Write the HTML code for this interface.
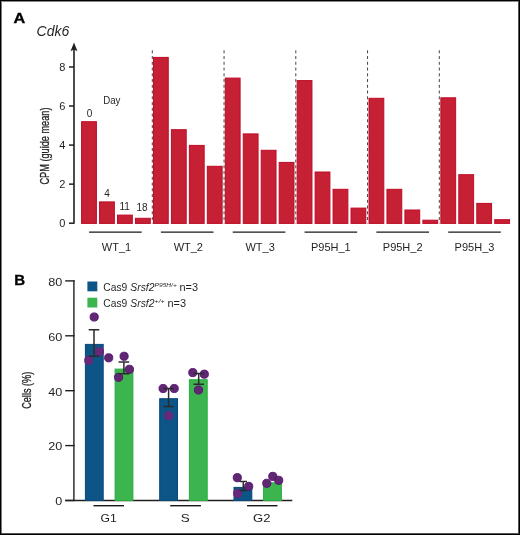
<!DOCTYPE html>
<html><head><meta charset="utf-8"><style>
html,body{margin:0;padding:0;background:#fff;}
body{width:520px;height:535px;overflow:hidden;position:relative;}
svg{position:absolute;left:0;top:0;will-change:transform;}
text{font-family:"Liberation Sans",sans-serif;fill:#231f20;}
.t10{font-size:10px;}
.t93{font-size:9.3px;}
.t11{font-size:11px;}
.t12{font-size:12px;}
.heavy{stroke:#231f20;stroke-width:0.3px;}
.bold16{font-size:16px;font-weight:bold;}
.bold15{font-size:15px;font-weight:bold;}
.bold155{font-size:15.5px;font-weight:bold;}
.it14{font-size:14px;font-style:italic;}
.bstroke{stroke:#000;stroke-width:0.35px;fill:#000;}
.it{font-style:italic;}
.sup{font-size:6.2px;font-style:italic;}
</style></head><body>
<svg width="520" height="535" viewBox="0 0 520 535">
<rect x="81.60" y="121.70" width="14.8" height="101.70" fill="#c52034" stroke="#c00b27" stroke-width="1"/>
<rect x="99.56" y="201.90" width="14.8" height="21.50" fill="#c52034" stroke="#c00b27" stroke-width="1"/>
<rect x="117.52" y="215.10" width="14.8" height="8.30" fill="#c52034" stroke="#c00b27" stroke-width="1"/>
<rect x="135.48" y="218.30" width="14.8" height="5.10" fill="#c52034" stroke="#c00b27" stroke-width="1"/>
<rect x="153.45" y="57.40" width="14.8" height="166.00" fill="#c52034" stroke="#c00b27" stroke-width="1"/>
<rect x="171.41" y="129.70" width="14.8" height="93.70" fill="#c52034" stroke="#c00b27" stroke-width="1"/>
<rect x="189.37" y="145.40" width="14.8" height="78.00" fill="#c52034" stroke="#c00b27" stroke-width="1"/>
<rect x="207.33" y="166.30" width="14.8" height="57.10" fill="#c52034" stroke="#c00b27" stroke-width="1"/>
<rect x="225.30" y="78.10" width="14.8" height="145.30" fill="#c52034" stroke="#c00b27" stroke-width="1"/>
<rect x="243.26" y="133.90" width="14.8" height="89.50" fill="#c52034" stroke="#c00b27" stroke-width="1"/>
<rect x="261.22" y="150.30" width="14.8" height="73.10" fill="#c52034" stroke="#c00b27" stroke-width="1"/>
<rect x="279.18" y="162.40" width="14.8" height="61.00" fill="#c52034" stroke="#c00b27" stroke-width="1"/>
<rect x="297.15" y="80.60" width="14.8" height="142.80" fill="#c52034" stroke="#c00b27" stroke-width="1"/>
<rect x="315.11" y="172.00" width="14.8" height="51.40" fill="#c52034" stroke="#c00b27" stroke-width="1"/>
<rect x="333.07" y="189.30" width="14.8" height="34.10" fill="#c52034" stroke="#c00b27" stroke-width="1"/>
<rect x="351.03" y="208.10" width="14.8" height="15.30" fill="#c52034" stroke="#c00b27" stroke-width="1"/>
<rect x="369.00" y="98.30" width="14.8" height="125.10" fill="#c52034" stroke="#c00b27" stroke-width="1"/>
<rect x="386.96" y="189.30" width="14.8" height="34.10" fill="#c52034" stroke="#c00b27" stroke-width="1"/>
<rect x="404.92" y="210.00" width="14.8" height="13.40" fill="#c52034" stroke="#c00b27" stroke-width="1"/>
<rect x="422.88" y="220.20" width="14.8" height="3.20" fill="#c52034" stroke="#c00b27" stroke-width="1"/>
<rect x="440.85" y="97.80" width="14.8" height="125.60" fill="#c52034" stroke="#c00b27" stroke-width="1"/>
<rect x="458.81" y="174.70" width="14.8" height="48.70" fill="#c52034" stroke="#c00b27" stroke-width="1"/>
<rect x="476.77" y="203.40" width="14.8" height="20.00" fill="#c52034" stroke="#c00b27" stroke-width="1"/>
<rect x="494.73" y="219.70" width="14.8" height="3.70" fill="#c52034" stroke="#c00b27" stroke-width="1"/>
<line x1="152.30" y1="50.3" x2="152.30" y2="223.4" stroke="#444" stroke-width="1" stroke-dasharray="3 2.75"/>
<line x1="224.05" y1="50.3" x2="224.05" y2="223.4" stroke="#444" stroke-width="1" stroke-dasharray="3 2.75"/>
<line x1="295.80" y1="50.3" x2="295.80" y2="223.4" stroke="#444" stroke-width="1" stroke-dasharray="3 2.75"/>
<line x1="367.55" y1="50.3" x2="367.55" y2="223.4" stroke="#444" stroke-width="1" stroke-dasharray="3 2.75"/>
<line x1="439.30" y1="50.3" x2="439.30" y2="223.4" stroke="#444" stroke-width="1" stroke-dasharray="3 2.75"/>
<line x1="74" y1="49" x2="74" y2="223.70000000000002" stroke="#231f20" stroke-width="1.6"/>
<path d="M74 42.4 L77.5 51.2 L74 49.6 L70.5 51.2 Z" fill="#231f20"/>
<line x1="69" y1="223.20" x2="74" y2="223.20" stroke="#231f20" stroke-width="1.5"/>
<text x="65.3" y="227.40" class="t11" text-anchor="end">0</text>
<line x1="69" y1="184.14" x2="74" y2="184.14" stroke="#231f20" stroke-width="1.5"/>
<text x="65.3" y="188.34" class="t11" text-anchor="end">2</text>
<line x1="69" y1="145.08" x2="74" y2="145.08" stroke="#231f20" stroke-width="1.5"/>
<text x="65.3" y="149.28" class="t11" text-anchor="end">4</text>
<line x1="69" y1="106.02" x2="74" y2="106.02" stroke="#231f20" stroke-width="1.5"/>
<text x="65.3" y="110.22" class="t11" text-anchor="end">6</text>
<line x1="69" y1="66.96" x2="74" y2="66.96" stroke="#231f20" stroke-width="1.5"/>
<text x="65.3" y="71.16" class="t11" text-anchor="end">8</text>
<text x="89.5" y="116.5" class="t10" text-anchor="middle">0</text>
<text x="107.0" y="197.1" class="t10" text-anchor="middle">4</text>
<text x="124.6" y="209.6" class="t10" text-anchor="middle">11</text>
<text x="142.1" y="211.3" class="t10" text-anchor="middle">18</text>
<text x="103.2" y="103.5" class="t10" textLength="17.3" lengthAdjust="spacingAndGlyphs">Day</text>
<line x1="89.10" y1="232.1" x2="141.70" y2="232.1" stroke="#1a1718" stroke-width="1.4"/>
<text x="116.50" y="250.7" class="t11" text-anchor="middle">WT_1</text>
<line x1="160.92" y1="232.1" x2="213.52" y2="232.1" stroke="#1a1718" stroke-width="1.4"/>
<text x="188.32" y="250.7" class="t11" text-anchor="middle">WT_2</text>
<line x1="232.74" y1="232.1" x2="285.34" y2="232.1" stroke="#1a1718" stroke-width="1.4"/>
<text x="260.14" y="250.7" class="t11" text-anchor="middle">WT_3</text>
<line x1="304.56" y1="232.1" x2="357.16" y2="232.1" stroke="#1a1718" stroke-width="1.4"/>
<text x="330.86" y="250.7" class="t11" text-anchor="middle">P95H_1</text>
<line x1="376.38" y1="232.1" x2="428.98" y2="232.1" stroke="#1a1718" stroke-width="1.4"/>
<text x="402.68" y="250.7" class="t11" text-anchor="middle">P95H_2</text>
<line x1="448.20" y1="232.1" x2="500.80" y2="232.1" stroke="#1a1718" stroke-width="1.4"/>
<text x="474.50" y="250.7" class="t11" text-anchor="middle">P95H_3</text>
<text transform="translate(49.3 146.05) rotate(-90)" x="0" y="0" text-anchor="middle" class="t12 heavy" textLength="77" lengthAdjust="spacingAndGlyphs">CPM (guide mean)</text>
<text transform="translate(13.5 23.4) scale(1.05 1)" class="bold155 bstroke">A</text>
<text x="36.6" y="35.8" class="it14">Cdk6</text>
<text x="14.2" y="285" class="bold15 bstroke">B</text>
<line x1="73.9" y1="280.20" x2="73.9" y2="500.50" stroke="#231f20" stroke-width="1.4"/>
<line x1="65.2" y1="500.50" x2="74.60000000000001" y2="500.50" stroke="#231f20" stroke-width="1.4"/>
<text x="55.3" y="505.40" class="t11" textLength="7.0" lengthAdjust="spacingAndGlyphs">0</text>
<line x1="65.2" y1="445.60" x2="74.60000000000001" y2="445.60" stroke="#231f20" stroke-width="1.4"/>
<text x="48.2" y="450.40" class="t11" textLength="14.1" lengthAdjust="spacingAndGlyphs">20</text>
<line x1="65.2" y1="390.70" x2="74.60000000000001" y2="390.70" stroke="#231f20" stroke-width="1.4"/>
<text x="48.2" y="395.50" class="t11" textLength="14.1" lengthAdjust="spacingAndGlyphs">40</text>
<line x1="65.2" y1="335.80" x2="74.60000000000001" y2="335.80" stroke="#231f20" stroke-width="1.4"/>
<text x="48.2" y="340.60" class="t11" textLength="14.1" lengthAdjust="spacingAndGlyphs">60</text>
<line x1="65.2" y1="280.90" x2="74.60000000000001" y2="280.90" stroke="#231f20" stroke-width="1.4"/>
<text x="48.2" y="285.70" class="t11" textLength="14.1" lengthAdjust="spacingAndGlyphs">80</text>
<line x1="65.2" y1="500.50" x2="292.3" y2="500.50" stroke="#231f20" stroke-width="1.4"/>
<rect x="85.4" y="344.4" width="17.8" height="156.10" fill="#0d5586" stroke="#08477a" stroke-width="1"/>
<rect x="115.1" y="369.1" width="17.8" height="131.40" fill="#3db54f" stroke="#27ad3d" stroke-width="1"/>
<rect x="159.7" y="398.7" width="17.8" height="101.80" fill="#0d5586" stroke="#08477a" stroke-width="1"/>
<rect x="189.4" y="379.7" width="17.8" height="120.80" fill="#3db54f" stroke="#27ad3d" stroke-width="1"/>
<rect x="234.0" y="487.4" width="17.8" height="13.10" fill="#0d5586" stroke="#08477a" stroke-width="1"/>
<rect x="263.6" y="482.8" width="17.8" height="17.70" fill="#3db54f" stroke="#27ad3d" stroke-width="1"/>
<circle cx="94.2" cy="317" r="4.1" fill="#5f2870" stroke="#560f75" stroke-width="0.9"/>
<circle cx="99.5" cy="351.7" r="4.1" fill="#672979" stroke="#662480" stroke-width="0.9"/>
<circle cx="88.7" cy="360.4" r="4.1" fill="#672979" stroke="#662480" stroke-width="0.9"/>
<circle cx="108.7" cy="357.8" r="4.1" fill="#5f2870" stroke="#560f75" stroke-width="0.9"/>
<circle cx="124.1" cy="356.3" r="4.1" fill="#5f2870" stroke="#560f75" stroke-width="0.9"/>
<circle cx="129.4" cy="369.3" r="4.1" fill="#5f2870" stroke="#560f75" stroke-width="0.9"/>
<circle cx="118.6" cy="377.3" r="4.1" fill="#5f2870" stroke="#560f75" stroke-width="0.9"/>
<circle cx="163.1" cy="388.5" r="4.1" fill="#5f2870" stroke="#560f75" stroke-width="0.9"/>
<circle cx="174.2" cy="388.5" r="4.1" fill="#5f2870" stroke="#560f75" stroke-width="0.9"/>
<circle cx="168.8" cy="415.7" r="4.1" fill="#672979" stroke="#662480" stroke-width="0.9"/>
<circle cx="192.8" cy="372.6" r="4.1" fill="#5f2870" stroke="#560f75" stroke-width="0.9"/>
<circle cx="204.3" cy="374.2" r="4.1" fill="#5f2870" stroke="#560f75" stroke-width="0.9"/>
<circle cx="198.5" cy="390" r="4.1" fill="#5f2870" stroke="#560f75" stroke-width="0.9"/>
<circle cx="237.3" cy="477.7" r="4.1" fill="#5f2870" stroke="#560f75" stroke-width="0.9"/>
<circle cx="248.7" cy="486.4" r="4.1" fill="#5f2870" stroke="#560f75" stroke-width="0.9"/>
<circle cx="237.6" cy="493.4" r="4.1" fill="#672979" stroke="#662480" stroke-width="0.9"/>
<circle cx="266.8" cy="483.3" r="4.1" fill="#5f2870" stroke="#560f75" stroke-width="0.9"/>
<circle cx="272.8" cy="476.4" r="4.1" fill="#5f2870" stroke="#560f75" stroke-width="0.9"/>
<circle cx="278.7" cy="480.3" r="4.1" fill="#5f2870" stroke="#560f75" stroke-width="0.9"/>
<path d="M88.70 329.7 H99.30 M94.0 329.7 V356.3 M88.70 356.3 H99.30" stroke="#2b2b2b" stroke-width="1.5" fill="none"/>
<path d="M118.60 361.9 H129.20 M123.9 361.9 V373.8 M118.60 373.8 H129.20" stroke="#2b2b2b" stroke-width="1.5" fill="none"/>
<path d="M163.40 388.5 H173.80 M168.6 388.5 V406.6 M163.40 406.6 H173.80" stroke="#2b2b2b" stroke-width="1.5" fill="none"/>
<path d="M193.50 373.5 H203.90 M198.7 373.5 V384.3 M193.50 384.3 H203.90" stroke="#2b2b2b" stroke-width="1.5" fill="none"/>
<path d="M239.60 481.4 H247.00 M243.3 481.4 V490.4 M239.60 490.4 H247.00" stroke="#2b2b2b" stroke-width="1.5" fill="none"/>
<line x1="93.5" y1="505.7" x2="124" y2="505.7" stroke="#1a1718" stroke-width="1.4"/>
<text x="100.5" y="521.8" class="t11" textLength="16.2" lengthAdjust="spacingAndGlyphs">G1</text>
<line x1="170.2" y1="505.7" x2="200.9" y2="505.7" stroke="#1a1718" stroke-width="1.4"/>
<text x="180.8" y="521.8" class="t11" textLength="9.0" lengthAdjust="spacingAndGlyphs">S</text>
<line x1="247.1" y1="505.7" x2="277.5" y2="505.7" stroke="#1a1718" stroke-width="1.4"/>
<text x="253.1" y="521.8" class="t11" textLength="17.4" lengthAdjust="spacingAndGlyphs">G2</text>
<rect x="87.4" y="281.5" width="9.9" height="9.8" fill="#0d5586"/>
<rect x="87.4" y="297.7" width="9.9" height="9.8" fill="#3db54f"/>
<text x="103.3" y="290.8" class="t10" textLength="24.0" lengthAdjust="spacingAndGlyphs">Cas9</text>
<text x="130.3" y="290.8" class="t10 it" textLength="24.2" lengthAdjust="spacingAndGlyphs">Srsf2</text>
<text x="154.6" y="286.5" class="sup" textLength="22.2" lengthAdjust="spacingAndGlyphs">P95H/+</text>
<text x="179.4" y="290.8" class="t10" textLength="18.6" lengthAdjust="spacingAndGlyphs">n=3</text>
<text x="103.3" y="306.9" class="t10" textLength="24.0" lengthAdjust="spacingAndGlyphs">Cas9</text>
<text x="130.3" y="306.9" class="t10 it" textLength="24.2" lengthAdjust="spacingAndGlyphs">Srsf2</text>
<text x="154.6" y="302.6" class="sup" textLength="10.0" lengthAdjust="spacingAndGlyphs">+/+</text>
<text x="167.5" y="306.9" class="t10" textLength="18.6" lengthAdjust="spacingAndGlyphs">n=3</text>
<text transform="translate(30.5 390.3) rotate(-90)" x="0" y="0" text-anchor="middle" class="t12 heavy" textLength="37" lengthAdjust="spacingAndGlyphs">Cells (%)</text>
<rect x="1" y="1" width="1" height="533" fill="#7a7a7a"/>
<rect x="1" y="1" width="518" height="1" fill="#8a8a8a"/>
<rect x="518" y="1" width="1" height="533" fill="#555"/>
<rect x="1" y="533" width="518" height="1" fill="#555"/>
<rect x="0" y="0" width="1" height="535" fill="#000"/>
<rect x="0" y="0" width="520" height="1" fill="#000"/>
<rect x="519" y="0" width="1" height="535" fill="#000"/>
<rect x="0" y="534" width="520" height="1" fill="#000"/>
</svg>
</body></html>
